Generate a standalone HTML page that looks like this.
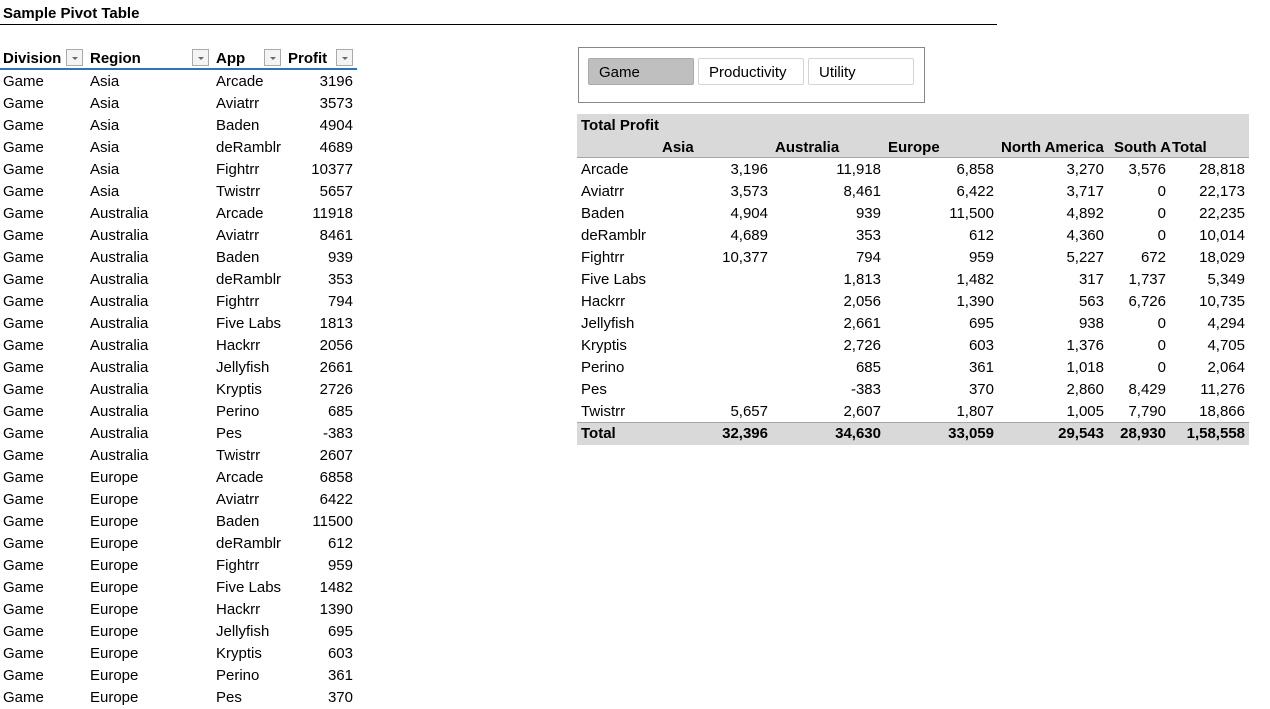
<!DOCTYPE html>
<html><head><meta charset="utf-8"><style>
body{margin:0;width:1270px;height:693px;overflow:hidden;background:#fff;font-family:"Liberation Sans",Arial,sans-serif;font-size:15px;color:#000;position:relative}
.a{position:absolute;white-space:nowrap;line-height:22px}
.t{padding-top:2px}
.r{text-align:right}
.b{font-weight:bold}
.dd{position:absolute;width:17px;height:17px;border:1px solid #aaa;background:#f4f4f4;box-sizing:border-box}
.dd:after{content:"";position:absolute;left:5px;top:7px;border-left:3px solid transparent;border-right:3px solid transparent;border-top:3px solid #666}
.btn{position:absolute;top:58px;height:27px;width:106px;box-sizing:border-box;border:1px solid #d4d4d4;border-radius:2px;line-height:27px;padding-left:10px;font-size:15px;background:#fff}
</style></head><body>
<div class="a b" style="left:3px;top:3px;font-size:15px">Sample Pivot Table</div>
<div class="a" style="left:0;top:24px;width:997px;height:1px;background:#000"></div>

<div class="a b" style="left:3px;top:48px">Division</div>
<div class="dd" style="left:66px;top:49px"></div>
<div class="a b" style="left:90px;top:48px">Region</div>
<div class="dd" style="left:192px;top:49px"></div>
<div class="a b" style="left:216px;top:48px">App</div>
<div class="dd" style="left:264px;top:49px"></div>
<div class="a b" style="left:288px;top:48px">Profit</div>
<div class="dd" style="left:336px;top:49px"></div>
<div class="a" style="left:0;top:68px;width:357px;height:2px;background:#2e75b6"></div>
<div id="src"></div>

<div class="a" style="left:578px;top:47px;width:347px;height:56px;border:1px solid #888;box-sizing:border-box"></div>
<div class="btn" style="left:588px;background:#bfbfbf;border-color:#aaa">Game</div>
<div class="btn" style="left:698px">Productivity</div>
<div class="btn" style="left:808px">Utility</div>

<div class="a" style="left:577px;top:114px;width:672px;height:43px;background:#d9d9d9;border-bottom:1px solid #a6a6a6"></div>
<div class="a b" style="left:581px;top:115px">Total Profit</div>
<div class="a" style="left:577px;top:422px;width:672px;height:22px;background:#d9d9d9;border-top:1px solid #a6a6a6"></div>
<div id="piv"></div>

<script>
const srcRegions=["Asia","Asia","Asia","Asia","Asia","Asia","Australia","Australia","Australia","Australia","Australia","Australia","Australia","Australia","Australia","Australia","Australia","Australia","Europe","Europe","Europe","Europe","Europe","Europe","Europe","Europe","Europe","Europe","Europe"];
const srcApps=["Arcade","Aviatrr","Baden","deRamblr","Fightrr","Twistrr","Arcade","Aviatrr","Baden","deRamblr","Fightrr","Five Labs","Hackrr","Jellyfish","Kryptis","Perino","Pes","Twistrr","Arcade","Aviatrr","Baden","deRamblr","Fightrr","Five Labs","Hackrr","Jellyfish","Kryptis","Perino","Pes"];
const srcProfit=[3196,3573,4904,4689,10377,5657,11918,8461,939,353,794,1813,2056,2661,2726,685,-383,2607,6858,6422,11500,612,959,1482,1390,695,603,361,370];

const pivApps=["Arcade","Aviatrr","Baden","deRamblr","Fightrr","Five Labs","Hackrr","Jellyfish","Kryptis","Perino","Pes","Twistrr"];
const asia=[3196,3573,4904,4689,10377,null,null,null,null,null,null,5657];
const australia=[11918,8461,939,353,794,1813,2056,2661,2726,685,-383,2607];
const europe=[6858,6422,11500,612,959,1482,1390,695,603,361,370,1807];
const northAmerica=[3270,3717,4892,4360,5227,317,563,938,1376,1018,2860,1005];
const southAmerica=[3576,0,0,0,672,1737,6726,0,0,0,8429,7790];
const pivTotals=["32,396","34,630","33,059","29,543","28,930","1,58,558"];

function add(parent,txt,x,y,cls,name,right){
  const d=document.createElement('div');
  d.className='a '+cls;
  
  
  d.textContent=txt;
  if(right){d.style.right=(1270-x)+'px';}else{d.style.left=x+'px';}
  d.style.top=y+'px';
  parent.appendChild(d);
}
const src=document.getElementById('src');
srcApps.forEach((app,i)=>{
  const y=71+22*i;
  add(src,'Game',3,y,'','division-cell',false);
  add(src,srcRegions[i],90,y,'','region-cell',false);
  add(src,app,216,y,'','app-cell',false);
  add(src,String(srcProfit[i]),353,y,'r','profit-cell',true);
});
const fmt=v=>v===null?'':v.toLocaleString('en-US');
const piv=document.getElementById('piv');
const heads=[["Asia",662],["Australia",775],["Europe",888],["North America",1001],["South A",1114],["Total",1172]];
heads.forEach(h=>add(piv,h[0],h[1],137,'b','column-header',false));
const rights=[768,881,994,1104,1166,1245];
pivApps.forEach((app,i)=>{
  const y=159+22*i;
  add(piv,app,581,y,'','row-label',false);
  const vals=[asia[i],australia[i],europe[i],northAmerica[i],southAmerica[i]];
  const tot=vals.reduce((s,v)=>s+(v||0),0);
  vals.push(tot);
  vals.forEach((v,j)=>add(piv,fmt(v),rights[j],y,'r','value-cell',true));
});
add(piv,'Total',581,423,'b','total-label',false);
pivTotals.forEach((t,j)=>add(piv,t,rights[j],423,'b r','grand-total-cell',true));
</script>
</body></html>
